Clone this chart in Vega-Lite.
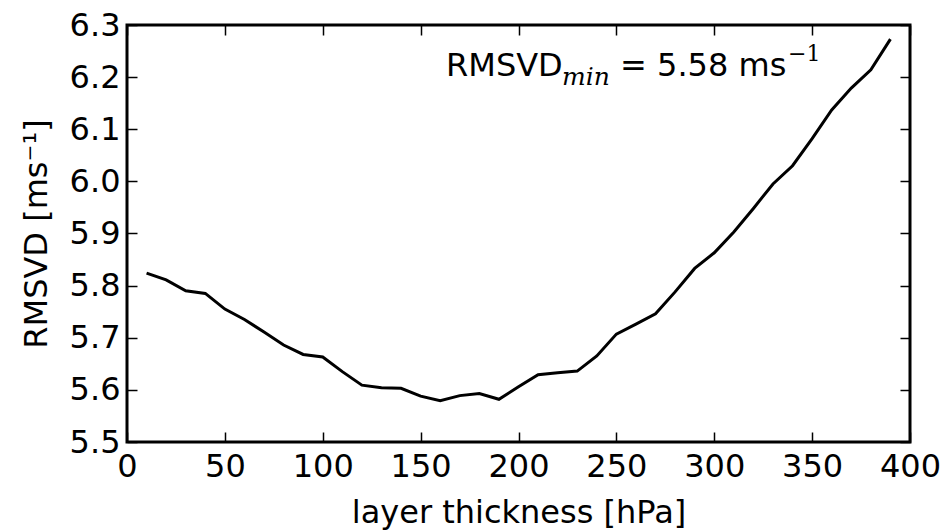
{
  "$schema": "https://vega.github.io/schema/vega-lite/v6.json",
  "width": 783,
  "height": 417,
  "autosize": {"type": "none"},
  "padding": {"left": 127, "top": 25, "right": 37, "bottom": 90},
  "background": "white",
  "config": {
    "font": "DejaVu Sans",
    "view": {"stroke": "black", "strokeWidth": 3},
    "axis": {
      "domain": false,
      "grid": false,
      "tickColor": "black",
      "tickWidth": 1.5,
      "tickSize": -10,
      "labelColor": "black",
      "labelFont": "DejaVu Sans",
      "labelFontSize": 32,
      "labelFlush": false,
      "labelOverlap": false,
      "titleFont": "DejaVu Sans",
      "titleFontSize": 32,
      "titleFontWeight": "normal",
      "titleColor": "black"
    }
  },
  "data": {
    "values": [
      {"thickness": 10, "rmsvd": 5.824},
      {"thickness": 20, "rmsvd": 5.811},
      {"thickness": 30, "rmsvd": 5.790},
      {"thickness": 40, "rmsvd": 5.785},
      {"thickness": 50, "rmsvd": 5.755},
      {"thickness": 60, "rmsvd": 5.735},
      {"thickness": 70, "rmsvd": 5.711},
      {"thickness": 80, "rmsvd": 5.686},
      {"thickness": 90, "rmsvd": 5.668},
      {"thickness": 100, "rmsvd": 5.663},
      {"thickness": 110, "rmsvd": 5.635},
      {"thickness": 120, "rmsvd": 5.609},
      {"thickness": 130, "rmsvd": 5.604},
      {"thickness": 140, "rmsvd": 5.603},
      {"thickness": 150, "rmsvd": 5.588},
      {"thickness": 160, "rmsvd": 5.579},
      {"thickness": 170, "rmsvd": 5.589},
      {"thickness": 180, "rmsvd": 5.593},
      {"thickness": 190, "rmsvd": 5.582},
      {"thickness": 200, "rmsvd": 5.606},
      {"thickness": 210, "rmsvd": 5.629},
      {"thickness": 220, "rmsvd": 5.633},
      {"thickness": 230, "rmsvd": 5.636},
      {"thickness": 240, "rmsvd": 5.665},
      {"thickness": 250, "rmsvd": 5.707},
      {"thickness": 260, "rmsvd": 5.726},
      {"thickness": 270, "rmsvd": 5.746},
      {"thickness": 280, "rmsvd": 5.788},
      {"thickness": 290, "rmsvd": 5.833},
      {"thickness": 300, "rmsvd": 5.863},
      {"thickness": 310, "rmsvd": 5.903},
      {"thickness": 320, "rmsvd": 5.948},
      {"thickness": 330, "rmsvd": 5.995},
      {"thickness": 340, "rmsvd": 6.030},
      {"thickness": 350, "rmsvd": 6.082},
      {"thickness": 360, "rmsvd": 6.137},
      {"thickness": 370, "rmsvd": 6.179},
      {"thickness": 380, "rmsvd": 6.214},
      {"thickness": 390, "rmsvd": 6.273}
    ]
  },
  "resolve": {"axis": {"x": "independent", "y": "independent"}},
  "layer": [
    {
      "mark": {"type": "line", "color": "black", "strokeWidth": 3},
      "encoding": {
        "x": {
          "field": "thickness", "type": "quantitative",
          "scale": {"domain": [0, 400], "nice": false, "zero": false},
          "axis": {"orient": "bottom", "values": [0, 50, 100, 150, 200, 250, 300, 350, 400], "labelPadding": 19, "title": "layer thickness [hPa]", "titlePadding": 15}
        },
        "y": {
          "field": "rmsvd", "type": "quantitative",
          "scale": {"domain": [5.5, 6.3], "nice": false, "zero": false},
          "axis": {"orient": "left", "values": [5.5, 5.6, 5.7, 5.8, 5.9, 6.0, 6.1, 6.2, 6.3], "format": ".1f", "labelPadding": 17, "title": "RMSVD [ms⁻¹]", "titlePadding": 16}
        }
      }
    },
    {
      "mark": {"type": "line", "color": "black", "opacity": 0},
      "encoding": {
        "x": {
          "field": "thickness", "type": "quantitative",
          "axis": {"orient": "top", "values": [0, 50, 100, 150, 200, 250, 300, 350, 400], "labels": false, "title": null}
        },
        "y": {
          "field": "rmsvd", "type": "quantitative",
          "axis": {"orient": "right", "values": [5.5, 5.6, 5.7, 5.8, 5.9, 6.0, 6.1, 6.2, 6.3], "labels": false, "title": null}
        }
      }
    },
    {
      "data": {"values": [{}]},
      "mark": {"type": "text", "text": "RMSVD", "align": "left", "baseline": "alphabetic", "fontSize": 32, "font": "DejaVu Sans", "color": "black"},
      "encoding": {
        "x": {"datum": 163, "type": "quantitative", "axis": null},
        "y": {"datum": 6.202, "type": "quantitative", "axis": null}
      }
    },
    {
      "data": {"values": [{}]},
      "mark": {"type": "text", "text": "min", "align": "left", "baseline": "alphabetic", "fontSize": 25, "font": "DejaVu Serif", "fontStyle": "italic", "color": "black", "dx": 116, "dy": 9},
      "encoding": {
        "x": {"datum": 163, "type": "quantitative", "axis": null},
        "y": {"datum": 6.202, "type": "quantitative", "axis": null}
      }
    },
    {
      "data": {"values": [{}]},
      "mark": {"type": "text", "text": "= 5.58 ms", "align": "left", "baseline": "alphabetic", "fontSize": 32, "font": "DejaVu Sans", "color": "black", "dx": 174},
      "encoding": {
        "x": {"datum": 163, "type": "quantitative", "axis": null},
        "y": {"datum": 6.202, "type": "quantitative", "axis": null}
      }
    },
    {
      "data": {"values": [{}]},
      "mark": {"type": "text", "text": "−1", "align": "left", "baseline": "alphabetic", "fontSize": 22, "font": "DejaVu Serif", "color": "black", "dx": 342, "dy": -15},
      "encoding": {
        "x": {"datum": 163, "type": "quantitative", "axis": null},
        "y": {"datum": 6.202, "type": "quantitative", "axis": null}
      }
    }
  ]
}
